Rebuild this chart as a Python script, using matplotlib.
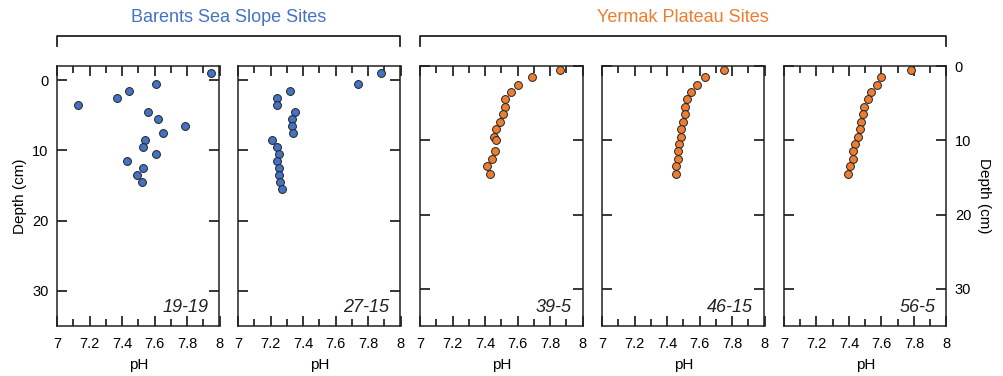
import numpy as np
import matplotlib.pyplot as plt
from matplotlib.lines import Line2D
from matplotlib.ticker import MultipleLocator

plt.rcParams['font.family'] = ['Liberation Sans', 'DejaVu Sans']

# === data: depth (cm) and pH for each site ===
sites = ["19-19", "27-15", "39-5", "46-15", "56-5"]

depth_1919 = [-1, 0.5, 1.5, 2.5, 3.5, 4.5, 5.5, 6.5, 7.5, 8.5, 9.5, 10.5, 11.5, 12.5, 13.5, 14.5]
ph_1919 = [7.95, 7.61, 7.44, 7.37, 7.13, 7.56, 7.62, 7.79, 7.65, 7.54, 7.53, 7.61, 7.43, 7.53, 7.49, 7.52]

depth_2715 = [-1, 0.5, 1.5, 2.5, 3.5, 4.5, 5.5, 6.5, 7.5, 8.5, 9.5, 10.5, 11.5, 12.5, 13.5, 14.5, 15.5]
ph_2715 = [7.88, 7.74, 7.32, 7.24, 7.24, 7.35, 7.33, 7.33, 7.34, 7.21, 7.24, 7.255, 7.24, 7.25, 7.25, 7.26, 7.27]

depth_395 = [0.5, 1.5, 2.5, 3.5, 4.5, 5.5, 6.5, 7.5, 8.5, 9.5, 10, 11.5, 12.5, 13.5, 14.5]
ph_395 = [7.86, 7.69, 7.60, 7.56, 7.52, 7.52, 7.51, 7.49, 7.47, 7.455, 7.47, 7.46, 7.44, 7.41, 7.43]

depth_4615 = [0.5, 1.5, 2.5, 3.5, 4.5, 5.5, 6.5, 7.5, 8.5, 9.5, 10.5, 11.5, 12.5, 13.5, 14.5]
ph_4615 = [7.75, 7.635, 7.586, 7.545, 7.52, 7.51, 7.51, 7.50, 7.485, 7.485, 7.475, 7.465, 7.465, 7.455, 7.455]

depth_565 = [0.5, 1.5, 2.5, 3.5, 4.5, 5.5, 6.5, 7.5, 8.5, 9.5, 10.5, 11.5, 12.5, 13.5, 14.5]
ph_565 = [7.78, 7.60, 7.57, 7.535, 7.515, 7.495, 7.485, 7.475, 7.465, 7.455, 7.435, 7.425, 7.425, 7.405, 7.395]

depths = [depth_1919, depth_2715, depth_395, depth_4615, depth_565]
phs = [ph_1919, ph_2715, ph_395, ph_4615, ph_565]

blue = "#4472C4"
orange = "#ED7D31"
colors = [blue, blue, orange, orange, orange]
ytops = [-2, -2, 0, 0, 0]  # Barents panels start slightly above 0

# === layout ===
W, H = 1004, 376
fig = plt.figure(figsize=(W / 100, H / 100), dpi=100)
lefts = [57, 238, 420, 602, 784]
pw = 162.5
bottom = 1 - 326 / H
ph_ = 260 / H

axes = []
for i in range(5):
    ax = fig.add_axes([lefts[i] / W, bottom, pw / W, ph_])
    ax.scatter(phs[i], depths[i], s=32, color=colors[i], edgecolor="#222222",
               linewidth=0.7, zorder=3, clip_on=False)
    ax.set_xlim(7, 8)
    ax.set_ylim(35, ytops[i])
    ax.xaxis.set_minor_locator(MultipleLocator(0.1))
    ax.set_xticks([7, 7.2, 7.4, 7.6, 7.8, 8])
    ax.set_xticklabels(["7", "7.2", "7.4", "7.6", "7.8", "8"])
    ax.set_yticks([0, 10, 20, 30])
    ax.tick_params(axis="x", which="both", direction="in", top=True, width=1.1,
                   labelsize=10.5, pad=8)
    ax.tick_params(axis="x", which="major", length=7)
    ax.tick_params(axis="x", which="minor", length=5)
    ax.tick_params(axis="y", direction="in", length=7, width=1.1, left=True, right=True,
                   labelleft=(i == 0), labelright=(i == 4), labelsize=10.5, pad=6)
    for sp in ax.spines.values():
        sp.set_linewidth(1.1)
        sp.set_color("#222222")
    ax.set_xlabel("pH", fontsize=11, labelpad=5)
    ax.text(0.93, 0.07, sites[i], transform=ax.transAxes, ha="right", va="center",
            fontsize=13, style="italic", color="#222222")
    axes.append(ax)

axes[0].set_ylabel("Depth (cm)", fontsize=11, labelpad=4)
axes[4].yaxis.set_label_position("right")
axes[4].set_ylabel("Depth (cm)", fontsize=11, rotation=-90, labelpad=14)

# === group brackets and titles ===
def bracket(ax_a, ax_b, label, color):
    x0 = ax_a.get_position().x0
    x1 = ax_b.get_position().x1
    yb = 1 - 36 / H
    yd = 1 - 46 / H
    fig.add_artist(Line2D([x0, x0, x1, x1], [yd, yb, yb, yd], color="#222222",
                          linewidth=1.3, transform=fig.transFigure))
    fig.text((x0 + x1) / 2, 1 - 17 / H, label, color=color, ha="center", va="center",
             fontsize=13)

bracket(axes[0], axes[1], "Barents Sea Slope Sites", blue)
bracket(axes[2], axes[4], "Yermak Plateau Sites", orange)

fig.savefig("out.png", dpi=100)
